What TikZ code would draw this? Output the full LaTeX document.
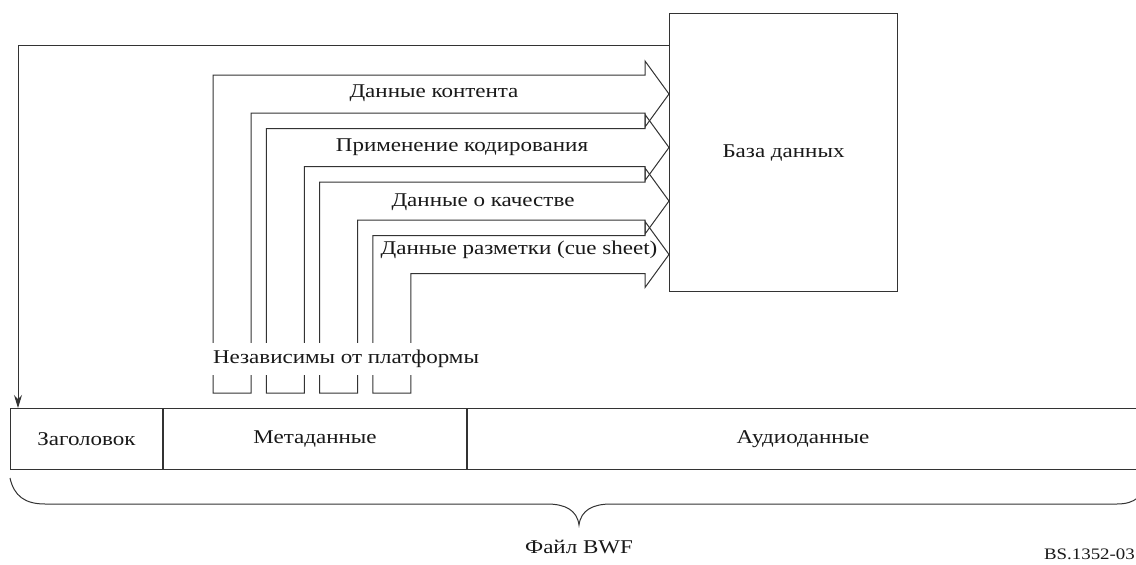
\documentclass[tikz,border=0pt]{standalone}
\usepackage{fontspec}
\setmainfont{Liberation Serif}[FakeStretch=1.18]
\usetikzlibrary{arrows.meta}
\begin{document}
\begin{tikzpicture}[x=1pt,y=-1pt]
\tikzset{
  lbl/.style={font=\fontsize{19.5}{21}\selectfont, text=black!90, inner sep=0pt},
  ln/.style={draw=black!80, line width=1pt},
  box/.style={ln, draw, font=\fontsize{19.5}{21}\selectfont, text=black!90, inner sep=0pt, anchor=north west, minimum height=61pt}
}
\useasboundingbox (0,0) rectangle (1136,565);
\fill[white] (0,0) rectangle (1136,565);

% database
\node[ln, draw, anchor=north west, minimum width=228pt, minimum height=278pt, inner sep=0pt,
      font=\fontsize{19.5}{21}\selectfont, text=black!90] (db) at (669,13) {База данных};

% hollow arrows
\foreach \k in {0,1,2,3}{
  \pgfmathsetmacro\o{213+53.33*\k}
  \pgfmathsetmacro\i{\o+38}
  \pgfmathsetmacro\t{75+53.5*\k}
  \pgfmathsetmacro\b{\t+38}
  \pgfmathsetmacro\c{\t+19}
  \draw[ln] (\o,393) -- (\o,\t) -- (645,\t) -- (645,\t-14) -- (669,\c)
        -- (645,\b+14) -- (645,\b) -- (\i,\b) -- (\i,393) -- cycle;
}

\node[lbl, fill=white, minimum height=32pt, inner xsep=1pt] (plat) at (346,359) {\raisebox{-2pt}{Независимы от платформы}};

\node[lbl] (l1) at (434,93) {Данные контента};
\node[lbl] (l2) at (462,147) {Применение кодирования};
\node[lbl] (l3) at (483,202) {Данные о качестве};
\node[lbl] (l4) at (519,250) {Данные разметки (cue sheet)};

% file bar
\node[box, minimum width=152pt] (hdr) at (10,408) {Заголовок};
\node[box, minimum width=303pt] (meta) at (hdr.north east) {Метаданные};
\node[box, minimum width=671pt] (audio) at (meta.north east) {Аудиоданные};

% feedback arrow
\coordinate (fbs) at (669,45);
\coordinate (fbc) at (18,45);
\coordinate (fbe) at (18,408);
\draw[ln, -{Stealth[length=13pt,width=8pt]}] (fbs) -- (fbc) -- (fbe);

% brace
\draw[ln] (10,478) .. controls (14,496) and (25,504) .. (45,504) -- (547,504)
   .. controls (565,504) and (577,510) .. (579,525)
   .. controls (581,510) and (593,504) .. (611,504) -- (1117,504)
   .. controls (1135,504) and (1144,496) .. (1148,478);

\node[lbl] (bwf) at (579,547) {Файл BWF};
\node[lbl, anchor=north east, font=\fontsize{16}{18}\selectfont] (code) at (1135,549) {BS.1352-03};
\end{tikzpicture}
\end{document}
